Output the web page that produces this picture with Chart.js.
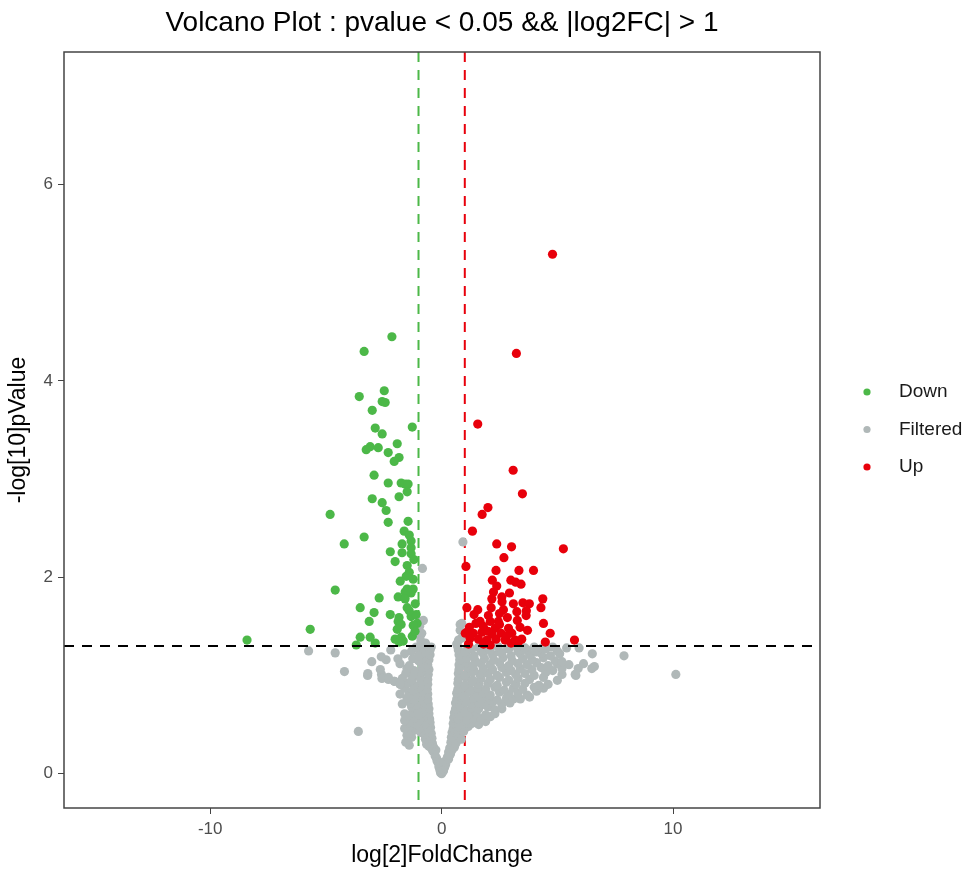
<!DOCTYPE html>
<html>
<head>
<meta charset="utf-8">
<title>Volcano Plot</title>
<script src="https://cdn.jsdelivr.net/npm/chart.js@4.4.1/dist/chart.umd.min.js"></script>
<style>
  body { margin: 0; background: #fff; }
  #wrap { width: 967px; height: 871px; }
</style>
</head>
<body>
<div id="wrap"><canvas id="volcano" width="967" height="871"></canvas></div>
<script>
// data: [log2FC, -log10 p]
const downPts = [
  [-2.15, 4.45], [-3.35, 4.30], [-2.48, 3.90], [-3.56, 3.84], [-2.57, 3.79], [-2.44, 3.78],
  [-3.00, 3.70], [-2.87, 3.52], [-1.27, 3.53], [-2.57, 3.46], [-1.92, 3.36], [-3.09, 3.33],
  [-3.26, 3.30], [-2.74, 3.32], [-2.31, 3.27], [-1.84, 3.22], [-2.05, 3.18], [-2.92, 3.04],
  [-2.31, 2.96], [-1.75, 2.96], [-1.58, 2.95], [-1.45, 2.95], [-1.49, 2.87], [-3.00, 2.80],
  [-1.84, 2.82], [-2.57, 2.76], [-2.40, 2.68], [-4.82, 2.64], [-2.31, 2.56], [-1.45, 2.57],
  [-1.62, 2.47], [-1.40, 2.43], [-3.35, 2.41], [-4.21, 2.34], [-1.71, 2.34], [-1.32, 2.37],
  [-1.32, 2.30], [-2.22, 2.26], [-1.71, 2.25], [-1.32, 2.24], [-2.01, 2.16], [-1.49, 2.12],
  [-1.40, 2.05], [-1.53, 2.01], [-1.23, 1.98], [-1.79, 1.96], [-4.60, 1.87], [-1.49, 1.88],
  [-1.23, 1.88], [-1.58, 1.85], [-1.32, 1.84], [-2.70, 1.79], [-1.88, 1.80], [-1.58, 1.78],
  [-1.49, 1.69], [-1.14, 1.73], [-3.52, 1.69], [-2.22, 1.62], [-2.92, 1.64], [-1.84, 1.59],
  [-1.32, 1.60], [-1.10, 1.62], [-3.13, 1.55], [-1.88, 1.55], [-1.75, 1.52], [-1.06, 1.53],
  [-1.23, 1.51], [-5.68, 1.47], [-1.92, 1.47], [-3.52, 1.39], [-3.09, 1.39], [-2.01, 1.37],
  [-1.75, 1.39], [-1.27, 1.40], [-3.69, 1.31], [-2.87, 1.33], [-1.84, 1.34], [-1.66, 1.35],
  [-8.41, 1.36], [-1.15, 1.45], [-1.40, 1.66], [-1.20, 2.18]
];

const upPts = [
  [4.79, 5.29], [3.23, 4.28], [1.56, 3.56], [3.09, 3.09], [3.49, 2.85], [2.00, 2.71],
  [1.75, 2.64], [1.33, 2.47], [2.38, 2.34], [3.02, 2.31], [5.26, 2.29], [2.69, 2.20],
  [1.05, 2.11], [2.35, 2.07], [3.34, 2.07], [3.97, 2.07], [2.19, 1.97], [2.99, 1.97],
  [3.43, 1.93], [2.38, 1.91], [2.24, 1.85], [2.93, 1.84], [2.17, 1.78], [2.61, 1.75],
  [4.37, 1.78], [3.10, 1.73], [3.51, 1.74], [3.79, 1.73], [1.09, 1.69], [1.56, 1.67],
  [2.14, 1.69], [2.67, 1.67], [4.29, 1.69], [3.25, 1.65], [3.66, 1.66], [2.50, 1.63],
  [2.02, 1.61], [2.84, 1.59], [3.65, 1.61], [1.66, 1.55], [1.48, 1.53], [2.10, 1.55],
  [2.45, 1.55], [3.27, 1.56], [4.40, 1.53], [1.20, 1.49], [2.31, 1.48], [2.89, 1.48],
  [3.39, 1.49], [3.71, 1.46], [1.02, 1.43], [1.37, 1.43], [1.74, 1.44], [2.17, 1.42],
  [2.57, 1.43], [3.03, 1.43], [4.69, 1.43], [1.23, 1.38], [1.59, 1.37], [1.95, 1.36],
  [2.35, 1.37], [2.74, 1.36], [3.18, 1.36], [3.46, 1.37], [4.48, 1.34], [5.74, 1.36],
  [1.16, 1.32], [1.81, 1.32], [2.10, 1.31], [3.32, 1.34], [2.00, 1.45], [2.80, 1.40],
  [1.40, 1.62], [2.50, 1.52], [3.00, 1.33], [1.80, 1.50], [2.60, 1.80], [3.20, 1.95]
];

const filteredPts = [
  [0.00, 0.00], [-0.05, 0.01], [0.05, 0.02], [-0.08, 0.04], [0.08, 0.03], [0.02, 0.05],
  [-0.12, 0.07], [0.12, 0.06], [-0.05, 0.09], [0.15, 0.08],
  [-0.15, 0.11], [-0.20, 0.13], [0.18, 0.10], [0.22, 0.14], [0.10, 0.12],
  [-0.22, 0.16], [-0.28, 0.18], [0.25, 0.17], [0.30, 0.15], [0.35, 0.19],
  [-0.30, 0.21], [-0.38, 0.23], [-0.25, 0.24], [0.30, 0.22], [0.38, 0.20], [0.45, 0.24],
  [-0.35, 0.27], [-0.45, 0.26], [-0.55, 0.28], [0.35, 0.26], [0.45, 0.29], [0.55, 0.27],
  [-0.40, 0.31], [-0.50, 0.33], [-0.65, 0.30], [-1.40, 0.29], [-1.55, 0.32], [0.40, 0.32], [0.50, 0.34], [0.62, 0.31],
  [-0.42, 0.36], [-0.55, 0.38], [-0.70, 0.35], [-1.30, 0.37], [-1.50, 0.39], [0.42, 0.37], [0.55, 0.36], [0.70, 0.39], [0.85, 0.35],
  [-0.45, 0.41], [-0.60, 0.43], [-0.75, 0.40], [-0.90, 0.42], [-1.20, 0.44], [-1.45, 0.41], [-1.60, 0.46],
  [0.45, 0.42], [0.60, 0.44], [0.75, 0.41], [0.95, 0.43], [-3.60, 0.43],
  [-0.48, 0.47], [-0.62, 0.46], [-0.80, 0.48], [-1.00, 0.45], [-1.35, 0.49], [0.50, 0.46], [0.65, 0.48], [0.80, 0.47], [1.00, 0.46], [1.15, 0.48],
  [-0.50, 0.52], [-0.70, 0.51], [-0.85, 0.53], [-1.10, 0.50], [-1.40, 0.52], [-1.60, 0.54], [0.50, 0.51], [0.70, 0.53], [0.90, 0.50], [1.10, 0.52], [1.30, 0.51], [1.60, 0.50], [1.90, 0.53],
  [-0.52, 0.56], [-0.75, 0.58], [-0.95, 0.55], [-1.15, 0.57], [-1.45, 0.59], [0.52, 0.57], [0.70, 0.56], [0.90, 0.58], [1.10, 0.55], [1.40, 0.57], [1.70, 0.56], [2.10, 0.58],
  [-0.55, 0.61], [-0.80, 0.63], [-1.00, 0.60], [-1.25, 0.62], [-1.60, 0.61], [0.55, 0.62], [0.75, 0.60], [0.95, 0.63], [1.20, 0.61], [1.50, 0.62], [1.90, 0.60], [2.30, 0.61],
  [-0.55, 0.66], [-0.85, 0.67], [-1.05, 0.65], [-1.30, 0.68], [0.60, 0.66], [0.80, 0.68], [1.00, 0.65], [1.30, 0.67], [1.60, 0.66], [2.00, 0.68], [2.30, 0.65], [2.60, 0.66],
  [-0.58, 0.71], [-0.80, 0.73], [-1.10, 0.70], [-1.35, 0.72], [-1.70, 0.71], [0.60, 0.72], [0.80, 0.70], [1.05, 0.73], [1.30, 0.71], [1.60, 0.72], [1.90, 0.70], [2.20, 0.73], [2.60, 0.71], [2.95, 0.72],
  [-0.60, 0.76], [-0.90, 0.78], [-1.20, 0.75], [-1.50, 0.77], [0.65, 0.76], [0.85, 0.78], [1.10, 0.75], [1.40, 0.77], [1.70, 0.76], [2.00, 0.78], [2.40, 0.75], [2.80, 0.77], [3.10, 0.76], [3.40, 0.76], [3.80, 0.78],
  [-0.60, 0.81], [-0.85, 0.83], [-1.15, 0.80], [-1.40, 0.82], [-1.80, 0.81], [0.65, 0.82], [0.90, 0.80], [1.20, 0.83], [1.50, 0.81], [1.80, 0.82], [2.10, 0.80], [2.50, 0.83], [2.90, 0.81], [3.30, 0.82], [3.70, 0.80], [4.10, 0.84],
  [-0.62, 0.86], [-0.95, 0.88], [-1.25, 0.85], [-1.60, 0.87], [0.70, 0.86], [0.95, 0.88], [1.25, 0.85], [1.55, 0.87], [1.90, 0.86], [2.30, 0.88], [2.70, 0.85], [3.10, 0.87], [3.50, 0.86], [4.00, 0.88], [4.40, 0.87],
  [-0.60, 0.91], [-0.90, 0.93], [-1.20, 0.90], [-1.50, 0.92], [-1.80, 0.91], [0.70, 0.92], [1.00, 0.90], [1.30, 0.93], [1.60, 0.91], [2.00, 0.92], [2.40, 0.90], [2.80, 0.93], [3.20, 0.91], [3.60, 0.92], [4.20, 0.90], [4.60, 0.91],
  [-0.60, 0.96], [-0.95, 0.98], [-1.30, 0.95], [-1.70, 0.97], [-2.30, 0.96], [-2.05, 0.94], [0.72, 0.96], [1.05, 0.98], [1.35, 0.95], [1.70, 0.97], [2.10, 0.96], [2.50, 0.98], [2.90, 0.95], [3.30, 0.97], [3.80, 0.96], [4.40, 0.98], [5.00, 0.95],
  [-0.58, 1.01], [-0.90, 1.03], [-1.25, 1.00], [-1.55, 1.02], [-2.60, 1.01], [-3.20, 1.00], [0.72, 1.02], [1.00, 1.00], [1.30, 1.03], [1.65, 1.01], [2.00, 1.02], [2.40, 1.00], [2.80, 1.03], [3.20, 1.01], [3.60, 1.02], [4.00, 1.00], [4.50, 1.03], [5.20, 1.01], [5.80, 1.00],
  [-0.55, 1.06], [-0.85, 1.08], [-1.20, 1.05], [-1.50, 1.07], [-2.65, 1.06], [-4.20, 1.04], [0.75, 1.06], [1.10, 1.08], [1.40, 1.05], [1.80, 1.07], [2.20, 1.06], [2.60, 1.08], [3.00, 1.05], [3.40, 1.07], [3.90, 1.06], [4.30, 1.08], [4.80, 1.05], [5.20, 1.07], [5.90, 1.07],
  [-0.60, 1.11], [-0.90, 1.13], [-1.40, 1.10], [-1.80, 1.12], [0.75, 1.11], [1.05, 1.13], [1.35, 1.10], [1.70, 1.12], [2.10, 1.11], [2.50, 1.13], [2.90, 1.10], [3.30, 1.12], [3.70, 1.11], [4.10, 1.13], [4.60, 1.10], [5.00, 1.12], [5.50, 1.11], [6.13, 1.12], [6.60, 1.09],
  [-0.55, 1.16], [-0.80, 1.18], [-1.00, 1.15], [-1.25, 1.17], [-2.40, 1.16], [-3.02, 1.14], [0.78, 1.16], [1.10, 1.18], [1.45, 1.15], [1.85, 1.17], [2.25, 1.16], [2.65, 1.18], [3.05, 1.15], [3.50, 1.17], [3.90, 1.16], [4.40, 1.18], [4.90, 1.15], [5.20, 1.14],
  [-0.50, 1.21], [-0.75, 1.23], [-1.00, 1.20], [-1.60, 1.22], [-1.89, 1.17], [-2.61, 1.19], [-4.60, 1.23], [0.75, 1.21], [1.05, 1.23], [1.40, 1.20], [1.80, 1.22], [2.20, 1.21], [2.60, 1.23], [3.00, 1.20], [3.40, 1.22], [3.80, 1.21], [4.30, 1.23], [4.70, 1.20], [5.10, 1.22], [6.51, 1.22], [7.88, 1.20],
  [-0.50, 1.26], [-0.70, 1.24], [-0.95, 1.27], [-1.30, 1.25], [-2.20, 1.26], [-5.75, 1.25], [0.72, 1.26], [1.00, 1.24], [1.30, 1.27], [1.70, 1.25], [2.10, 1.26], [2.50, 1.24], [2.90, 1.27], [3.30, 1.25], [3.70, 1.26], [4.10, 1.24], [4.50, 1.27], [5.00, 1.25], [5.94, 1.28],
  [-0.45, 1.29], [-0.85, 1.28], [-1.10, 1.29], [0.70, 1.29], [1.20, 1.28], [1.60, 1.29], [2.00, 1.28], [2.45, 1.29], [2.85, 1.28], [3.25, 1.29], [3.60, 1.28], [4.00, 1.29], [4.35, 1.28], [4.80, 1.29], [5.40, 1.28],
  [-3.19, 1.02], [-2.58, 0.97], [-2.30, 0.98], [-2.04, 0.94], [-1.79, 0.91], [5.77, 1.01], [6.49, 1.07], [10.12, 1.01],
  [-0.93, 1.40], [-0.86, 1.55], [-0.79, 1.56], [-0.86, 1.43], [-0.83, 2.09], [-0.90, 1.35], [-0.70, 1.33], [-0.95, 1.50],
  [0.92, 2.36], [0.87, 1.53], [0.80, 1.46], [0.94, 1.43], [0.73, 1.36], [0.80, 1.52], [0.85, 1.38], [0.65, 1.32]
];

const seriesNames = ["Down", "Filtered", "Up"];
const seriesColors = ["#4cb848", "#b0b8b8", "#e8000b"];
const xTicks = [-10, 0, 10];
const yTicks = [0, 2, 4, 6];
const fcCut = 1;
const pCut = 1.301; // -log10(0.05)

const FONT = '"Liberation Sans", Arial, Helvetica, sans-serif';
const toXY = pts => pts.map(p => ({ x: p[0], y: p[1] }));

// threshold lines, panel frame, title and legend
const decorations = {
  id: "decorations",
  beforeDatasetsDraw(chart) {
    const { ctx, chartArea: a, scales: { x } } = chart;
    ctx.save();
    ctx.lineWidth = 2;
    ctx.setLineDash([10, 8]);
    [[-fcCut, seriesColors[0]], [fcCut, seriesColors[2]]].forEach(([v, c]) => {
      const px = x.getPixelForValue(v);
      ctx.strokeStyle = c;
      ctx.beginPath();
      ctx.moveTo(px, a.top);
      ctx.lineTo(px, a.bottom);
      ctx.stroke();
    });
    ctx.restore();
  },
  afterDatasetsDraw(chart) {
    const { ctx, chartArea: a, scales: { y } } = chart;
    ctx.save();
    const py = y.getPixelForValue(pCut);
    ctx.lineWidth = 2;
    ctx.setLineDash([10, 8]);
    ctx.strokeStyle = "#000";
    ctx.beginPath();
    ctx.moveTo(a.left, py);
    ctx.lineTo(a.right, py);
    ctx.stroke();
    ctx.setLineDash([]);
    ctx.lineWidth = 1.5;
    ctx.strokeStyle = "#444";
    ctx.strokeRect(a.left, a.top, a.right - a.left, a.bottom - a.top);
    ctx.restore();
  },
  afterDraw(chart) {
    const { ctx, chartArea: a } = chart;
    ctx.save();
    ctx.fillStyle = "#000";
    ctx.font = "28px " + FONT;
    ctx.textAlign = "center";
    ctx.textBaseline = "middle";
    ctx.fillText("Volcano Plot : pvalue < 0.05 && |log2FC| > 1", (a.left + a.right) / 2, 23);

    ctx.font = "19px " + FONT;
    ctx.textAlign = "left";
    seriesNames.forEach((name, i) => {
      const cy = 392 + i * 37.5;
      ctx.fillStyle = seriesColors[i];
      ctx.beginPath();
      ctx.arc(867, cy, 3.6, 0, Math.PI * 2);
      ctx.fill();
      ctx.fillStyle = "#1a1a1a";
      ctx.fillText(name, 899, cy);
    });
    ctx.restore();
  }
};

const axisCommon = {
  type: "linear",
  border: { display: false },
  grid: { drawOnChartArea: false, drawTicks: true, tickLength: 6, tickColor: "#444", tickWidth: 1 },
  ticks: { color: "#4d4d4d", font: { family: FONT, size: 17 }, padding: 5 }
};

new Chart(document.getElementById("volcano"), {
  type: "scatter",
  data: {
    datasets: [
      { label: "Down", data: toXY(downPts), backgroundColor: seriesColors[0], order: 1 },
      { label: "Up", data: toXY(upPts), backgroundColor: seriesColors[2], order: 1 },
      { label: "Filtered", data: toXY(filteredPts), backgroundColor: seriesColors[1], order: 2 }
    ]
  },
  options: {
    responsive: false,
    animation: false,
    layout: { padding: { top: 52, right: 147, bottom: 0, left: 0 } },
    elements: { point: { radius: 4.6, borderWidth: 0, hoverRadius: 4.6 } },
    plugins: { legend: { display: false }, tooltip: { enabled: false } },
    scales: {
      x: {
        ...axisCommon,
        min: -16.32,
        max: 16.35,
        afterBuildTicks: s => { s.ticks = xTicks.map(v => ({ value: v })); },
        afterFit: s => { s.height = 63; },
        title: { display: true, text: "log[2]FoldChange", color: "#000", font: { family: FONT, size: 23 }, padding: { top: 0, bottom: 2 } }
      },
      y: {
        ...axisCommon,
        min: -0.35,
        max: 7.35,
        afterBuildTicks: s => { s.ticks = yTicks.map(v => ({ value: v })); },
        afterFit: s => { s.width = 64; },
        title: { display: true, text: "-log[10]pValue", color: "#000", font: { family: FONT, size: 23 }, padding: { top: 5, bottom: 0 } }
      }
    }
  },
  plugins: [decorations]
});
</script>
</body>
</html>
